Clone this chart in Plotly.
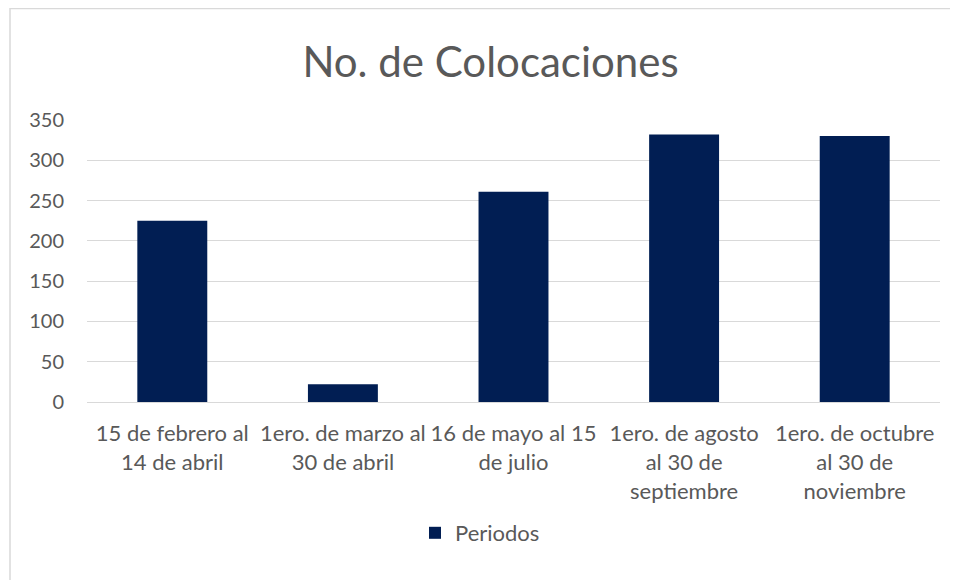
import plotly.graph_objects as go

categories = [
    "15 de febrero al<br>14 de abril",
    "1ero. de marzo al<br>30 de abril",
    "16 de mayo al 15<br>de julio",
    "1ero. de agosto<br>al 30 de<br>septiembre",
    "1ero. de octubre<br>al 30 de<br>noviembre",
]
values = [225, 22, 261, 332, 330]
series_name = "Periodos"
title_text = "No. de Colocaciones"
y_ticks = [0, 50, 100, 150, 200, 250, 300, 350]

# page body has an 8px default margin, so the figure is 8px smaller
W, H = 950, 572
L, R, T, B = 79, 18, 112, 178
pw, ph = W - L - R, H - T - B

fig = go.Figure()
fig.add_trace(go.Bar(
    x=categories, y=values, name=series_name,
    marker=dict(color="#011E53", line=dict(width=0)),
    showlegend=True,
))

font_family = "Lato, 'Open Sans', sans-serif"
fig.update_layout(
    width=W, height=H,
    margin=dict(l=L, r=R, t=T, b=B, pad=0),
    paper_bgcolor="white", plot_bgcolor="white",
    bargap=0.59,
    font=dict(family=font_family, color="#595959", size=20),
    title=dict(text=title_text, x=(490.5 - 8) / W, xanchor="center", xref="container",
               y=1 - 54 / H, yanchor="middle", yref="container",
               font=dict(size=42, color="#595959", family=font_family, weight=400)),
    showlegend=True,
    legend=dict(orientation="h", x=(407 - L) / pw, xanchor="left", y=(394 - 525) / ph,
                yanchor="middle", font=dict(size=22, color="#595959"),
                itemwidth=30, bgcolor="rgba(0,0,0,0)"),
    xaxis=dict(showgrid=False, showline=True, linecolor="#d9d9d9", linewidth=1,
               ticks="", tickfont=dict(size=22, color="#595959"),
               ticklabelstandoff=12, tickangle=0, fixedrange=True),
    yaxis=dict(range=[0, 350], tickvals=y_ticks, showgrid=True, gridcolor="#d9d9d9",
               gridwidth=1, zeroline=True, zerolinecolor="#d9d9d9", zerolinewidth=1,
               showline=False, ticks="", tickfont=dict(size=20, color="#595959"),
               ticklabelstandoff=22, fixedrange=True),
    shapes=[dict(type="rect", xref="paper", yref="paper",
                 x0=(2 - L) / pw, x1=(W + 20 - L) / pw,
                 y0=-(H + 20 - (H - B)) / ph, y1=1 + (T - 0.5) / ph,
                 line=dict(color="#d9d9d9", width=1.5), fillcolor="rgba(0,0,0,0)",
                 layer="below")],
)

fig.write_html("out.html")
